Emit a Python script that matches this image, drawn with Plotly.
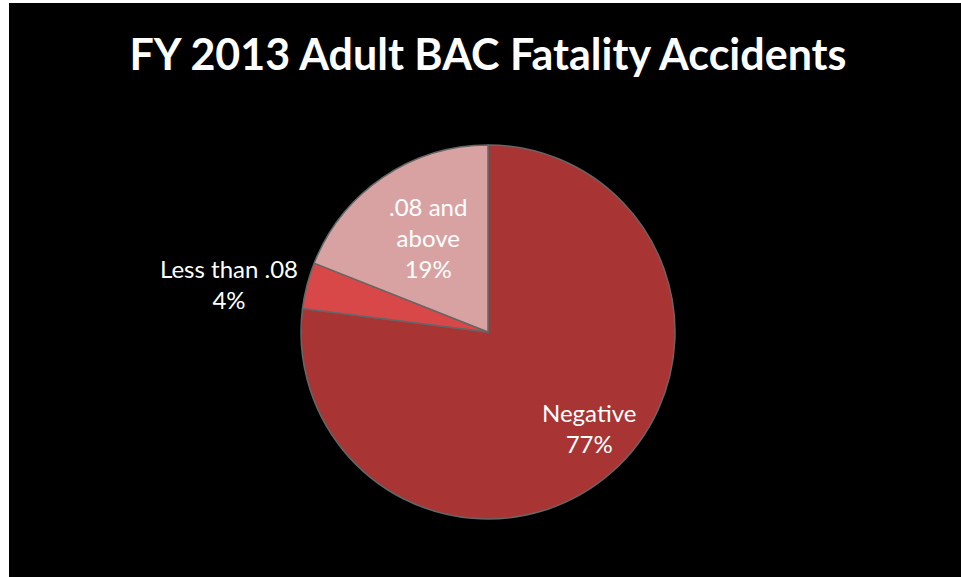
import math
import plotly.graph_objects as go

# Data
categories = ["Negative", "Less than .08", ".08 and above"]
display_labels = ["Negative", "Less than .08", ".08 and<br>above"]
values = [77, 4, 19]
colors = ["#A83434", "#D94848", "#D9A2A2"]
label_radius = [0.743, 1.04, 0.60]   # label distance from centre, as fraction of radius
label_angle_shift = [-5, 0, 2]       # degrees, fine adjustment of label angle
label_anchor = ["center", "right", "center"]

W, H = 961, 577
CX, CY, R = 488, 332, 187  # pie centre / radius in pixels

fig = go.Figure()
fig.add_trace(go.Pie(
    labels=categories,
    values=values,
    textinfo="none",
    sort=False,
    direction="clockwise",
    rotation=0,
    marker=dict(colors=colors, line=dict(color="#666666", width=1.5)),
    domain=dict(x=[(CX - R) / W, (CX + R) / W],
                y=[1 - (CY + R) / H, 1 - (CY - R) / H]),
    showlegend=False,
    hoverinfo="label+percent",
))

# Data labels positioned along each slice's mid angle
total = sum(values)
annotations = []
cum = 0
for lab, v, rf, sh, anc in zip(display_labels, values, label_radius,
                               label_angle_shift, label_anchor):
    mid = (cum + v / 2) / total * 2 * math.pi + math.radians(sh)
    cum += v
    px = CX + rf * R * math.sin(mid)
    py = CY - rf * R * math.cos(mid)
    annotations.append(dict(
        text=f"{lab}<br>{v}%", x=px / W, y=1 - py / H,
        xref="paper", yref="paper", xanchor=anc, yanchor="middle",
        showarrow=False, align="center",
        font=dict(family="Lato", size=24, color="white"),
    ))

fig.update_layout(
    width=W, height=H,
    margin=dict(l=0, r=0, t=0, b=0),
    paper_bgcolor="white",
    shapes=[dict(type="rect", xref="paper", yref="paper",
                 x0=9 / W, x1=1.0, y0=0, y1=1 - 3 / H,
                 fillcolor="black", line=dict(width=0), layer="below")],
    annotations=annotations,
    title=dict(text="<b>FY 2013 Adult BAC Fatality Accidents</b>",
               font=dict(family="Lato", size=43, color="white"),
               x=488 / W, xanchor="center", xref="paper",
               y=1 - 55 / H, yanchor="middle", yref="container"),
)

fig.write_html("out.html")
